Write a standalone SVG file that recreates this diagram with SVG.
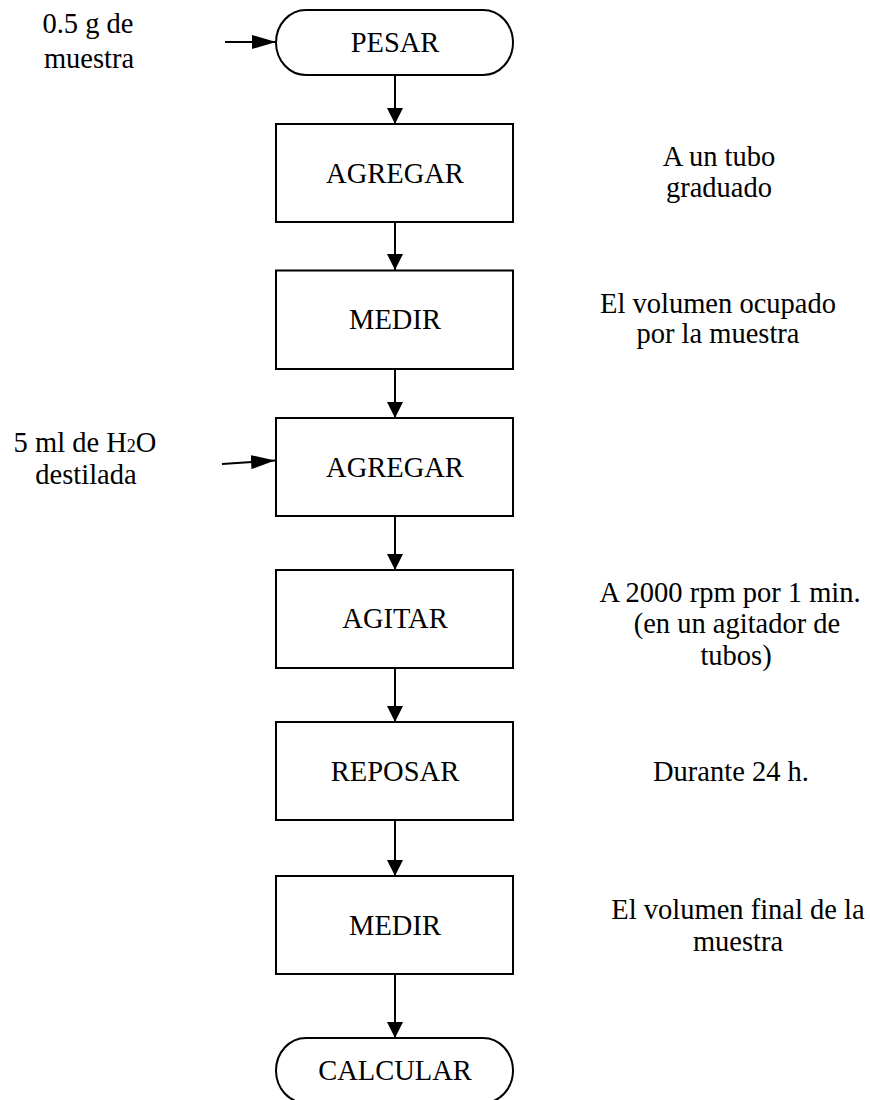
<svg xmlns="http://www.w3.org/2000/svg" width="870" height="1100" viewBox="0 0 870 1100">
<style>
  .shape { fill: #ffffff; stroke: #000000; stroke-width: 2; }
  .lbl { font-size: 28.5px; fill: #000000; text-anchor: middle; }
  .conn { stroke: #000000; stroke-width: 2; fill: none; }
</style>
<defs>
  <marker id="arrV" markerUnits="userSpaceOnUse" markerWidth="16" markerHeight="16" viewBox="0 0 16 16" refX="16" refY="8" orient="auto">
    <path d="M0,0 L16,8 L0,16 Z" fill="#000000"/>
  </marker>
  <marker id="arrH" markerUnits="userSpaceOnUse" markerWidth="24" markerHeight="14" viewBox="0 0 24 14" refX="24" refY="7" orient="auto">
    <path d="M0,0 L24,7 L0,14 Z" fill="#000000"/>
  </marker>
</defs>
<rect width="870" height="1100" fill="#ffffff"/>

<g id="connectors">
  <line class="conn" x1="225" y1="42" x2="276" y2="42" marker-end="url(#arrH)"/>
  <line class="conn" x1="222" y1="464" x2="275" y2="460.5" marker-end="url(#arrH)"/>
  <line class="conn" x1="395" y1="75" x2="395" y2="124" marker-end="url(#arrV)"/>
  <line class="conn" x1="395" y1="222" x2="395" y2="270" marker-end="url(#arrV)"/>
  <line class="conn" x1="395" y1="369" x2="395" y2="418" marker-end="url(#arrV)"/>
  <line class="conn" x1="395" y1="516" x2="395" y2="570" marker-end="url(#arrV)"/>
  <line class="conn" x1="395" y1="668" x2="395" y2="722" marker-end="url(#arrV)"/>
  <line class="conn" x1="395" y1="820" x2="395" y2="876" marker-end="url(#arrV)"/>
  <line class="conn" x1="395" y1="974" x2="395" y2="1038" marker-end="url(#arrV)"/>
</g>

<g font-family="'Liberation Serif', 'Times New Roman', serif">
<g id="n-pesar">
  <rect class="shape" x="276" y="10" width="237" height="65" rx="30" ry="32.5"/>
  <text class="lbl" x="395" y="52">PESAR</text>
</g>
<g id="n-agregar1">
  <rect class="shape" x="276" y="124" width="237" height="98"/>
  <text class="lbl" x="395" y="182.5">AGREGAR</text>
</g>
<g id="n-medir1">
  <rect class="shape" x="276" y="270.5" width="237" height="98.5"/>
  <text class="lbl" x="395" y="329">MEDIR</text>
</g>
<g id="n-agregar2">
  <rect class="shape" x="276" y="418" width="237" height="98"/>
  <text class="lbl" x="395" y="476.5">AGREGAR</text>
</g>
<g id="n-agitar">
  <rect class="shape" x="276" y="570" width="237" height="98"/>
  <text class="lbl" x="395" y="628">AGITAR</text>
</g>
<g id="n-reposar">
  <rect class="shape" x="276" y="722" width="237" height="98"/>
  <text class="lbl" x="395" y="780.5">REPOSAR</text>
</g>
<g id="n-medir2">
  <rect class="shape" x="276" y="876" width="237" height="98"/>
  <text class="lbl" x="395" y="934.5">MEDIR</text>
</g>
<g id="n-calcular">
  <rect class="shape" x="276" y="1038" width="237" height="65" rx="30" ry="32.5"/>
  <text class="lbl" x="395" y="1080">CALCULAR</text>
</g>

<g id="notes">
  <text class="lbl" x="88" y="33">0.5 g de</text>
  <text class="lbl" x="89" y="68">muestra</text>
  <text class="lbl" x="85" y="452">5 ml de H<tspan font-size="18">2</tspan>O</text>
  <text class="lbl" x="86" y="484">destilada</text>
  <text class="lbl" x="719" y="166">A un tubo</text>
  <text class="lbl" x="719" y="197">graduado</text>
  <text class="lbl" x="718" y="313">El volumen ocupado</text>
  <text class="lbl" x="718" y="343">por la muestra</text>
  <text class="lbl" x="730" y="602">A 2000 rpm por 1 min.</text>
  <text class="lbl" x="737" y="633">(en un agitador de</text>
  <text class="lbl" x="736" y="665">tubos)</text>
  <text class="lbl" x="731" y="780.5">Durante 24 h.</text>
  <text class="lbl" x="738" y="919">El volumen final de la</text>
  <text class="lbl" x="738" y="951">muestra</text>
</g>
</g>
</svg>
